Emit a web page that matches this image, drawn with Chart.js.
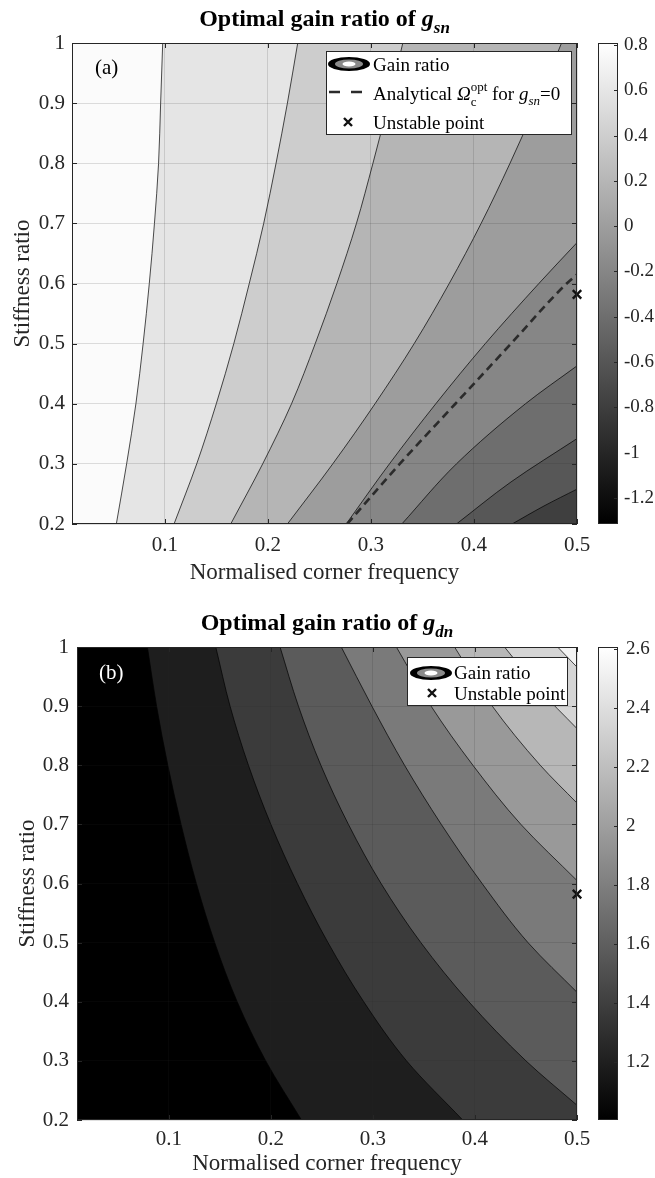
<!DOCTYPE html>
<html>
<head>
<meta charset="utf-8">
<script src="https://cdn.jsdelivr.net/npm/chart.js@4.4.1/dist/chart.umd.min.js"></script>
<style>
  html, body { margin: 0; padding: 0; background: #fff; }
  canvas { display: block; }
</style>
</head>
<body>
<canvas id="chartA" width="655" height="590"></canvas>
<canvas id="chartB" width="655" height="588"></canvas>
<script>
// axis limits and ticks
const xRange = [0.01, 0.5];
const yRange = [0.2, 1];
const xTicks = [0.1, 0.2, 0.3, 0.4, 0.5];
const yTicks = [0.2, 0.3, 0.4, 0.5, 0.6, 0.7, 0.8, 0.9, 1];

// panel (a) g_sn : contour lines as [x, y] (left = highest)
const snC1 = [[0.053,0.2],[0.063,0.3],[0.072,0.4],[0.079,0.5],[0.085,0.6],[0.090,0.7],[0.094,0.8],[0.096,0.9],[0.098,1.0]];
const snC2 = [[0.109,0.2],[0.131,0.3],[0.150,0.4],[0.167,0.5],[0.182,0.6],[0.196,0.7],[0.208,0.8],[0.219,0.9],[0.229,1.0]];
const snC3 = [[0.164,0.2],[0.195,0.3],[0.223,0.4],[0.246,0.5],[0.267,0.6],[0.286,0.7],[0.302,0.8],[0.317,0.9],[0.331,1.0]];
const snC4 = [[0.219,0.2],[0.263,0.3],[0.304,0.4],[0.342,0.5],[0.376,0.6],[0.407,0.7],[0.435,0.8],[0.461,0.9],[0.485,1.0]];
const snC5 = [[0.276,0.2],[0.318,0.3],[0.363,0.4],[0.411,0.5],[0.463,0.6],[0.5,0.668]];
const snC6 = [[0.330,0.2],[0.383,0.3],[0.450,0.4],[0.5,0.463]];
const snC7 = [[0.383,0.2],[0.436,0.27],[0.5,0.342]];
const snC8 = [[0.437,0.2],[0.468,0.23],[0.5,0.258]];
const snGreys = ['#fbfbfb','#e5e5e5','#cdcdcd','#b5b5b5','#9d9d9d','#868686','#6e6e6e','#575757','#3f3f3f'];
const snAnalytical = [[0.277,0.2],[0.328,0.3],[0.382,0.4],[0.436,0.5],[0.490,0.6],[0.5,0.615]];
const snBar = [-1.315, 0.809];
const snBarTicks = [0.8, 0.6, 0.4, 0.2, 0, -0.2, -0.4, -0.6, -0.8, -1, -1.2];

// panel (b) g_dn : contour lines (left = lowest)
const dnC1 = [[0.079,1.0],[0.088,0.9],[0.099,0.8],[0.112,0.7],[0.127,0.6],[0.145,0.5],[0.167,0.4],[0.195,0.3],[0.230,0.2]];
const dnC2 = [[0.146,1.0],[0.160,0.9],[0.178,0.8],[0.200,0.7],[0.226,0.6],[0.256,0.5],[0.291,0.4],[0.333,0.3],[0.388,0.2]];
const dnC3 = [[0.209,1.0],[0.227,0.9],[0.249,0.8],[0.276,0.7],[0.308,0.6],[0.347,0.5],[0.394,0.4],[0.450,0.3],[0.5,0.225]];
const dnC4 = [[0.269,1.0],[0.299,0.9],[0.331,0.8],[0.367,0.7],[0.407,0.6],[0.452,0.5],[0.5,0.416]];
const dnC5 = [[0.323,1.0],[0.357,0.9],[0.398,0.8],[0.445,0.7],[0.5,0.605]];
const dnC6 = [[0.380,1.0],[0.417,0.9],[0.464,0.8],[0.5,0.736]];
const dnC7 = [[0.429,1.0],[0.462,0.93],[0.5,0.862]];
const dnC8 = [[0.481,1.0],[0.5,0.966]];
const dnGreys = ['#000000','#1e1e1e','#3b3b3b','#5b5b5b','#7a7a7a','#999999','#b7b7b7','#d5d5d5','#f4f4f4'];
const dnBar = [1.004, 2.607];
const dnBarTicks = [2.6, 2.4, 2.2, 2, 1.8, 1.6, 1.4, 1.2];

const unstablePt = [0.5, 0.582];

const SERIF = '"Liberation Serif", "Times New Roman", serif';
const ink = '#262626';
Chart.defaults.font.family = SERIF;
Chart.defaults.color = ink;

function pts(arr) { return arr.map(p => ({x: p[0], y: p[1]})); }
function fmt(v) { return String(+v.toFixed(2)); }

function buildDatasets(p) {
  const ds = [];
  // each contour line fills towards the right edge with the next band's grey
  p.contours.forEach((c, k) => ds.push({
    data: pts(c), fill: {value: xRange[1]}, backgroundColor: p.greys[k + 1],
    borderColor: '#000', borderWidth: 0.7, pointRadius: 0,
    cubicInterpolationMode: 'monotone', order: 100 - k
  }));
  if (p.dashed) {
    ds.push({data: pts(p.dashed), fill: false, borderColor: '#2b2b2b', borderWidth: 2.6,
      borderDash: [8, 5], pointRadius: 0, cubicInterpolationMode: 'monotone', order: 5});
  }
  ds.push({data: [{x: unstablePt[0], y: unstablePt[1]}], showLine: false, pointStyle: 'crossRot',
    pointRadius: 6, borderColor: '#111', backgroundColor: '#111', borderWidth: 2.4, clip: false, order: 1});
  return ds;
}

function runsWidth(ctx, runs) {
  let w = 0, held = 0;
  runs.forEach(r => {
    ctx.font = r.font;
    const rw = ctx.measureText(r.text).width;
    if (r.hold) held = rw; else { w += Math.max(rw, held); held = 0; }
  });
  return w;
}
function drawRuns(ctx, runs, x, y) {
  let cx = x, held = 0;
  runs.forEach(r => {
    ctx.font = r.font;
    ctx.fillText(r.text, cx, y + (r.dy || 0));
    const rw = ctx.measureText(r.text).width;
    if (r.hold) held = rw; else { cx += Math.max(rw, held); held = 0; }
  });
}

function contourIcon(ctx, cx, cy) {
  ctx.fillStyle = '#000';
  ctx.beginPath(); ctx.ellipse(cx, cy, 21, 7, 0, 0, Math.PI * 2); ctx.fill();
  ctx.fillStyle = '#8a8a8a';
  ctx.beginPath(); ctx.ellipse(cx, cy, 14, 4.6, 0, 0, Math.PI * 2); ctx.fill();
  ctx.fillStyle = '#fff';
  ctx.beginPath(); ctx.ellipse(cx, cy, 6.5, 2.4, 0, 0, Math.PI * 2); ctx.fill();
}
function crossIcon(ctx, cx, cy) {
  ctx.strokeStyle = '#111'; ctx.lineWidth = 2.4;
  ctx.beginPath();
  ctx.moveTo(cx - 4, cy - 4); ctx.lineTo(cx + 4, cy + 4);
  ctx.moveTo(cx + 4, cy - 4); ctx.lineTo(cx - 4, cy + 4);
  ctx.stroke();
}

function decor(p) {
  return {
    id: 'decor',
    beforeDatasetsDraw(chart) {
      const a = chart.chartArea, ctx = chart.ctx;
      ctx.save();
      ctx.fillStyle = p.greys[0];
      ctx.fillRect(a.left, a.top, a.right - a.left, a.bottom - a.top);
      ctx.restore();
    },
    afterDraw(chart) {
      const ctx = chart.ctx, a = chart.chartArea;
      const sx = chart.scales.x, sy = chart.scales.y, cb = chart.scales.cb;
      ctx.save();
      // box + inward ticks
      ctx.strokeStyle = ink; ctx.lineWidth = 1;
      ctx.strokeRect(a.left + 0.5, a.top + 0.5, a.right - a.left - 1, a.bottom - a.top - 1);
      ctx.beginPath();
      xTicks.forEach(v => {
        const px = Math.round(sx.getPixelForValue(v)) + 0.5;
        ctx.moveTo(px, a.bottom); ctx.lineTo(px, a.bottom - 5);
        ctx.moveTo(px, a.top); ctx.lineTo(px, a.top + 5);
      });
      yTicks.forEach(v => {
        const py = Math.round(sy.getPixelForValue(v)) + 0.5;
        ctx.moveTo(a.left, py); ctx.lineTo(a.left + 5, py);
        ctx.moveTo(a.right, py); ctx.lineTo(a.right - 5, py);
      });
      ctx.stroke();

      // colorbar
      const bx = a.right + 21, bw = 20;
      const bt = cb.getPixelForValue(cb.max), bb = cb.getPixelForValue(cb.min);
      const g = ctx.createLinearGradient(0, bb, 0, bt);
      g.addColorStop(0, '#000'); g.addColorStop(1, '#fff');
      ctx.fillStyle = g;
      ctx.fillRect(bx, bt, bw, bb - bt);
      ctx.strokeRect(bx + 0.5, bt + 0.5, bw - 1, bb - bt - 1);
      ctx.beginPath();
      p.barTicks.forEach(v => {
        const py = Math.round(cb.getPixelForValue(v)) + 0.5;
        ctx.moveTo(bx + bw, py); ctx.lineTo(bx + bw - 4, py);
      });
      ctx.stroke();

      // title
      ctx.fillStyle = '#000';
      ctx.textBaseline = 'alphabetic';
      const tw = runsWidth(ctx, p.title);
      drawRuns(ctx, p.title, (a.left + a.right) / 2 - tw / 2, p.titleY);

      // panel label
      ctx.fillStyle = p.panelInk;
      ctx.font = '21px ' + SERIF;
      ctx.fillText(p.panel, a.left + p.panelDx, p.panelY);

      // legend
      const L = p.legend;
      ctx.fillStyle = '#fff';
      ctx.fillRect(L.box[0], L.box[1], L.box[2] - L.box[0], L.box[3] - L.box[1]);
      ctx.strokeStyle = ink; ctx.lineWidth = 1;
      ctx.strokeRect(L.box[0] + 0.5, L.box[1] + 0.5, L.box[2] - L.box[0], L.box[3] - L.box[1]);
      L.rows.forEach(r => {
        if (r.icon === 'contour') contourIcon(ctx, r.ix, r.iy);
        if (r.icon === 'cross') crossIcon(ctx, r.ix, r.iy);
        if (r.icon === 'dash') {
          ctx.strokeStyle = '#2b2b2b'; ctx.lineWidth = 2.6; ctx.setLineDash([11, 11]);
          ctx.beginPath(); ctx.moveTo(r.ix - 18, r.iy); ctx.lineTo(r.ix + 16, r.iy); ctx.stroke();
          ctx.setLineDash([]);
        }
        ctx.fillStyle = '#000';
        drawRuns(ctx, r.runs, L.textX, r.y);
      });
      ctx.restore();
    }
  };
}

// fixed axis sizes; drop the label overhang so layout padding alone sets the plot box
function fixWidth(w) {
  return s => { s.width = w; s.paddingTop = 0; s.paddingBottom = 0; };
}

function makeChart(id, p) {
  return new Chart(document.getElementById(id), {
    type: 'line',
    data: {datasets: buildDatasets(p)},
    options: {
      indexAxis: 'y',
      responsive: false,
      animation: false,
      events: [],
      layout: {padding: {top: p.areaTop, left: 0, right: 0, bottom: 0}},
      plugins: {legend: {display: false}, tooltip: {enabled: false}},
      scales: {
        x: {
          type: 'linear', position: 'bottom', min: xRange[0], max: xRange[1],
          afterBuildTicks: s => { s.ticks = xTicks.map(v => ({value: v})); },
          afterFit: s => { s.height = p.xAxisH; s.paddingLeft = 0; s.paddingRight = 0; },
          ticks: {font: {size: 21}, padding: p.xTickPad, maxRotation: 0, autoSkip: false, callback: fmt},
          grid: {color: 'rgba(38,38,38,0.15)', lineWidth: 1, drawTicks: false, z: 1},
          border: {display: false},
          title: {display: true, text: 'Normalised corner frequency', font: {size: 23},
            padding: {top: 0, bottom: p.xTitlePad}}
        },
        y: {
          type: 'linear', position: 'left', min: yRange[0], max: yRange[1],
          afterBuildTicks: s => { s.ticks = yTicks.map(v => ({value: v})); },
          afterFit: fixWidth(p.yAxisW),
          ticks: {font: {size: 21}, padding: p.yTickPad, autoSkip: false, callback: fmt},
          grid: {color: 'rgba(38,38,38,0.15)', lineWidth: 1, drawTicks: false, z: 1},
          border: {display: false},
          title: {display: true, text: 'Stiffness ratio', font: {size: 23},
            padding: {top: p.yTitlePad, bottom: 0}}
        },
        cb: {
          type: 'linear', position: 'right', min: p.bar[0], max: p.bar[1],
          afterBuildTicks: s => { s.ticks = p.barTicks.map(v => ({value: v})); },
          afterFit: fixWidth(78),
          ticks: {font: {size: 19}, padding: p.barPad, autoSkip: false, callback: fmt},
          grid: {drawOnChartArea: false, drawTicks: false},
          border: {display: false}
        }
      }
    },
    plugins: [decor(p)]
  });
}

const f19 = '19px ' + SERIF, i19 = 'italic 19px ' + SERIF;
const f13 = '13px ' + SERIF, i13 = 'italic 13px ' + SERIF;

makeChart('chartA', {
  contours: [snC1, snC2, snC3, snC4, snC5, snC6, snC7, snC8],
  greys: snGreys, dashed: snAnalytical, bar: snBar, barTicks: snBarTicks,
  areaTop: 43, xAxisH: 66, yAxisW: 72, xTickPad: 9, xTitlePad: 3, yTickPad: 7, yTitlePad: 9, barPad: 47,
  title: [
    {text: 'Optimal gain ratio of ', font: 'bold 24px ' + SERIF},
    {text: 'g', font: 'italic bold 24px ' + SERIF},
    {text: 'sn', font: 'italic bold 17px ' + SERIF, dy: 7}
  ],
  titleY: 26,
  panel: '(a)', panelInk: '#000', panelDx: 23, panelY: 74,
  legend: {
    box: [326, 51, 571, 134], textX: 373,
    rows: [
      {icon: 'contour', ix: 349, iy: 64, y: 71, runs: [{text: 'Gain ratio', font: f19}]},
      {icon: 'dash', ix: 347, iy: 92, y: 100, runs: [
        {text: 'Analytical ', font: f19}, {text: 'Ω', font: i19},
        {text: 'c', font: f13, dy: 6, hold: true}, {text: 'opt', font: f13, dy: -9},
        {text: ' for ', font: f19}, {text: 'g', font: i19}, {text: 'sn', font: i13, dy: 5},
        {text: '=0', font: f19}]},
      {icon: 'cross', ix: 348, iy: 122, y: 129, runs: [{text: 'Unstable point', font: f19}]}
    ]
  }
});

makeChart('chartB', {
  contours: [dnC1, dnC2, dnC3, dnC4, dnC5, dnC6, dnC7, dnC8],
  greys: dnGreys, dashed: null, bar: dnBar, barTicks: dnBarTicks,
  areaTop: 57, xAxisH: 58, yAxisW: 77, xTickPad: 7, xTitlePad: 0, yTickPad: 8, yTitlePad: 14, barPad: 49,
  title: [
    {text: 'Optimal gain ratio of ', font: 'bold 24px ' + SERIF},
    {text: 'g', font: 'italic bold 24px ' + SERIF},
    {text: 'dn', font: 'italic bold 17px ' + SERIF, dy: 7}
  ],
  titleY: 40,
  panel: '(b)', panelInk: '#fff', panelDx: 22, panelY: 89,
  legend: {
    box: [407, 67, 567, 115], textX: 454,
    rows: [
      {icon: 'contour', ix: 431, iy: 83, y: 89, runs: [{text: 'Gain ratio', font: f19}]},
      {icon: 'cross', ix: 432, iy: 103, y: 110, runs: [{text: 'Unstable point', font: f19}]}
    ]
  }
});
</script>
</body>
</html>
